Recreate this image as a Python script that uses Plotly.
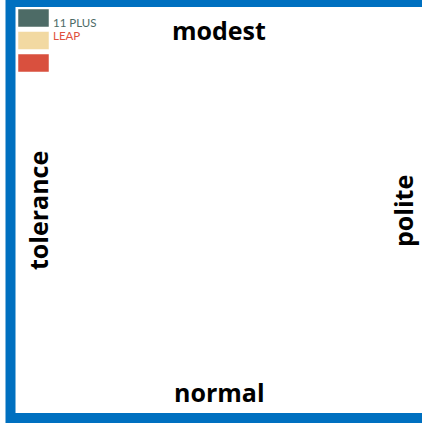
import plotly.graph_objects as go

# ---- data ----
series_names = ["11 PLUS", "LEAP", ""]
series_colors = ["#4d6b66", "#f2d9a2", "#d9503e"]
label_colors = ["#4d6b66", "#e0503c", "#d9503e"]
axis_labels = ["modest", "polite", "normal", "tolerance"]  # top, right, bottom, left

W, H = 422, 428
FONT = "'Open Sans', Calibri, Carlito, Lato, sans-serif"
LFONT = "Lato, Calibri, Carlito, sans-serif"

fig = go.Figure()
fig.add_trace(go.Scatter(x=[], y=[], showlegend=False))

shapes = []
# outer frame
shapes.append(dict(type="rect", xref="x", yref="y", x0=10.5, x1=427, y0=2, y1=418,
                   line=dict(color="#0070c0", width=10), fillcolor="rgba(0,0,0,0)", layer="above"))
# legend swatches
for i, (name, col) in enumerate(zip(series_names, series_colors)):
    y0 = 9 + i * 22.5
    shapes.append(dict(type="rect", xref="x", yref="y", x0=18, x1=49, y0=y0, y1=y0 + 18,
                       line=dict(color="white", width=0.5), fillcolor=col))

annotations = []
for i, name in enumerate(series_names):
    if not name:
        continue
    annotations.append(dict(x=51, y=22.5 + i * 12.5, xref="x", yref="y", text=name, showarrow=False,
                            xanchor="left", yanchor="middle",
                            font=dict(family=LFONT, size=11.5, color=label_colors[i])))

label_font = dict(family=FONT, size=25, color="black")
annotations.append(dict(x=219, y=30, xref="x", yref="y", text="<b>%s</b>" % axis_labels[0],
                        showarrow=False, font=label_font))
annotations.append(dict(x=403, y=211, xref="x", yref="y", text="<b>%s</b>" % axis_labels[1],
                        showarrow=False, textangle=-90, font=label_font))
annotations.append(dict(x=219, y=392, xref="x", yref="y", text="<b>%s</b>" % axis_labels[2],
                        showarrow=False, font=label_font))
annotations.append(dict(x=38, y=211, xref="x", yref="y", text="<b>%s</b>" % axis_labels[3],
                        showarrow=False, textangle=-90, font=label_font))

fig.update_layout(
    width=W, height=H,
    margin=dict(l=0, r=0, t=0, b=0),
    paper_bgcolor="white", plot_bgcolor="white",
    xaxis=dict(range=[0, W], visible=False, fixedrange=True),
    yaxis=dict(range=[H, 0], visible=False, fixedrange=True),
    shapes=shapes, annotations=annotations, showlegend=False,
)

fig.write_html("out.html", config={"displayModeBar": False},
               post_script="document.body.style.margin='0';document.body.style.overflow='hidden';")
